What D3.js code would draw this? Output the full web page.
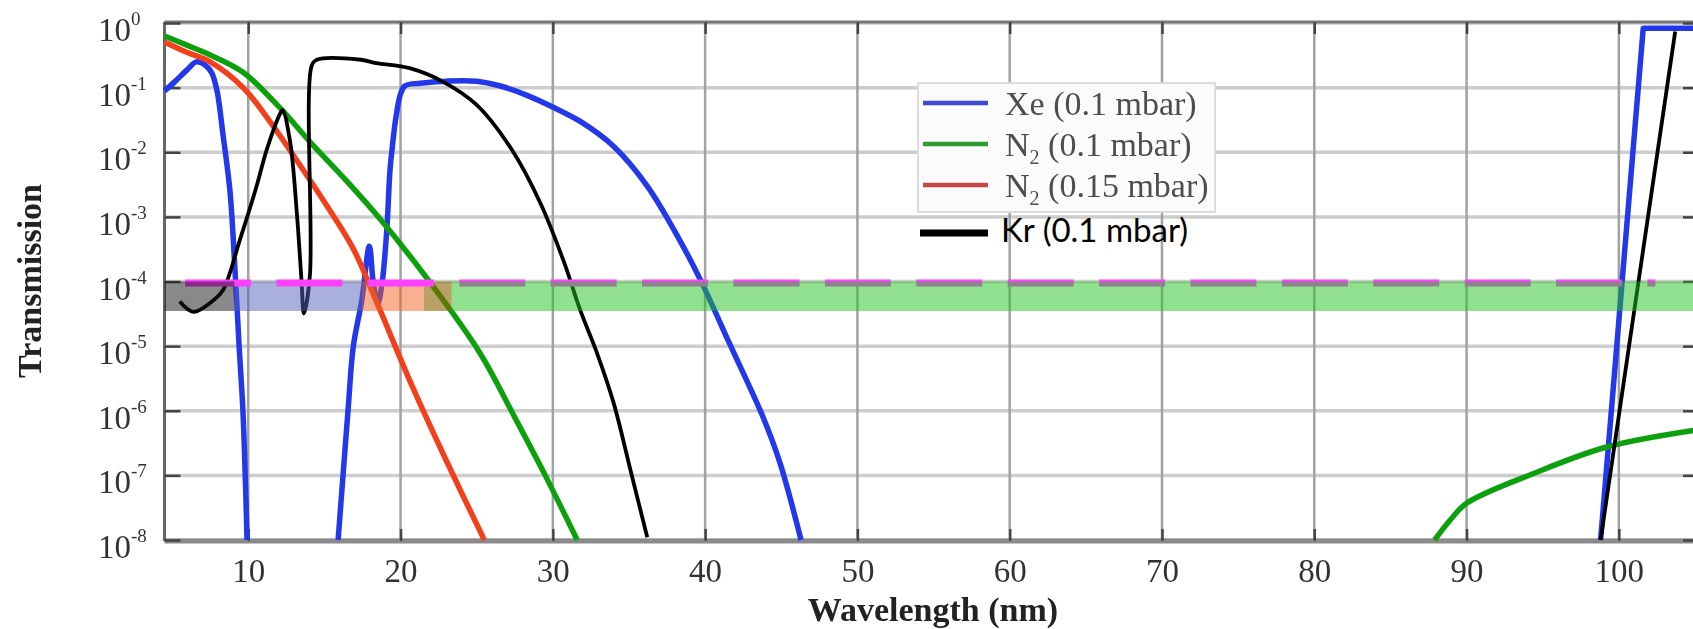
<!DOCTYPE html>
<html>
<head>
<meta charset="utf-8">
<script src="https://cdn.jsdelivr.net/npm/d3@7"></script>
<style>
  body { margin: 0; background: #fff; }
  svg { display: block; }
</style>
</head>
<body>
<svg width="1693" height="629"></svg>
<script>
// ---- data: [wavelength (nm), transmission] ----
// null breaks a curve where it drops below 1e-8
const xeData = [
  [4.5, 0.089], [5.2, 0.125], [6.0, 0.19], [6.6, 0.25], [7.2, 0.22], [7.6, 0.17],
  [7.95, 0.089], [8.35, 0.018], [8.8, 0.0025], [9.1, 2e-4], [9.4, 1e-5], [9.65, 1e-6],
  [9.8, 1e-7], [9.92, 1e-8], [12, null],
  [15.9, 1e-8], [16.55, 1e-6], [16.9, 1e-5], [17.45, 5e-5], [17.95, 3.5e-4], [18.2, 1e-4],
  [18.5, 4.5e-5], [18.8, 1e-4], [19.1, 6.5e-4], [19.3, 5e-3], [19.45, 0.0115], [19.7, 0.035],
  [20.0, 0.08], [20.3, 0.107], [21.3, 0.117], [23, 0.126], [25, 0.126], [26.5, 0.107],
  [28.3, 0.076], [30, 0.05], [31.8, 0.03], [34.0, 0.0123], [36.2, 0.003], [38.3, 4.5e-4],
  [39.7, 1.05e-4], [41.6, 1.1e-5], [43.8, 8e-7], [44.9, 1.6e-7], [46.3, 1e-8]
];
const xeEdge = [[98.8, 1e-8], [101.6, 0.83], [105, 0.83]];
const n2LowData = [
  [4.5, 0.63], [6.0, 0.45], [7.5, 0.32], [9.7, 0.17], [12.1, 0.048], [14.05, 0.0145],
  [16.5, 0.0035], [18.7, 9e-4], [21.8, 1.07e-4], [25.2, 7.9e-6], [27.5, 7.9e-7],
  [29.5, 1e-7], [31.6, 1e-8], [60, null],
  [87.9, 1e-8], [88.9, 2e-8], [90.0, 3.7e-8], [94.4, 1.07e-7], [99.2, 2.75e-7], [105, 5e-7]
];
const n2HighData = [
  [4.5, 0.51], [6.0, 0.35], [7.5, 0.25], [9.7, 0.098], [11.6, 0.026], [13.4, 0.0063],
  [15.15, 0.0015], [16.9, 3.2e-4], [18.4, 5e-5], [20.8, 2.3e-6], [23.0, 1.7e-7], [25.5, 1e-8]
];
const krData = [
  [5.5, 4.9e-5], [6.4, 3.4e-5], [7.7, 5.1e-5], [8.35, 7.4e-5], [9.45, 4.4e-4], [10.55, 0.003],
  [11.2, 0.0107], [12.1, 0.04], [12.25, 0.045], [12.75, 0.0145], [13.2, 0.00107], [13.5, 1e-4],
  [13.65, 3.2e-5], [14.05, 1.26e-4], [14.17, 0.22], [14.5, 0.27], [17.4, 0.27], [18.4, 0.24],
  [20.6, 0.2], [22.8, 0.123], [25.0, 0.054], [27.3, 0.011], [29.2, 0.0016], [30.7, 2.1e-4],
  [31.8, 3.6e-5], [32.9, 7.8e-6], [34.0, 1.3e-6], [35.1, 1.2e-7], [36.2, 1.1e-8]
];
const krEdge = [[98.8, 1e-8], [103.7, 0.74]];

const seriesNames = ["Xe (0.1 mbar)", "N2 (0.1 mbar)", "N2 (0.15 mbar)", "Kr (0.1 mbar)"];

// shaded strip just under the 1e-4 threshold
const threshold = 1e-4;
const thresholdFrom = 5.85, thresholdTo = 102.4;
const bandTop = 1e-4, bandBottom = 3.5e-5;
const bandNames = ["Xe", "N2 (0.15)", "overlap", "Kr", "N2 (0.1)"];
const bandFrom = [9.08, 17.45, 21.54, 4.5, 23.36];
const bandTo   = [17.45, 21.54, 23.36, 9.08, 105];

const xTicks = [10, 20, 30, 40, 50, 60, 70, 80, 90, 100];
const yExponents = [0, -1, -2, -3, -4, -5, -6, -7, -8];

// ---- drawing ----
const svg = d3.select("svg"),
    width = +svg.attr("width"),
    height = +svg.attr("height");

const x = d3.scaleLinear().domain([4.5, 105]).range([164.5, 1695]);
const y = d3.scaleLog().domain([1e-8, 1]).range([540, 23]);
const yTicks = yExponents.map(e => Math.pow(10, e));

svg.append("defs").append("filter").attr("id", "soft")
    .append("feGaussianBlur").attr("stdDeviation", 0.7);

const serif = "'Liberation Serif', 'Times New Roman', serif";

// grid
const grid = svg.append("g").attr("filter", "url(#soft)");
grid.selectAll(".hg").data(yTicks).join("line")
    .attr("x1", x(4.5)).attr("x2", x(105))
    .attr("y1", d => y(d)).attr("y2", d => y(d))
    .attr("stroke", "#cdcdcd").attr("stroke-width", 3.5);
grid.selectAll(".vg").data(xTicks).join("line")
    .attr("x1", d => x(d)).attr("x2", d => x(d))
    .attr("y1", y(1)).attr("y2", y(1e-8))
    .attr("stroke", "#a2a2a2").attr("stroke-width", 2.5);

// frame + inward ticks
const frame = svg.append("g").attr("filter", "url(#soft)");
frame.append("line").attr("x1", x(4.5)).attr("x2", x(105)).attr("y1", 22).attr("y2", 22)
    .attr("stroke", "#777").attr("stroke-width", 3);
frame.append("line").attr("x1", x(4.5)).attr("x2", x(105)).attr("y1", 541).attr("y2", 541)
    .attr("stroke", "#8a8a8a").attr("stroke-width", 5);
frame.append("line").attr("x1", x(4.5)).attr("x2", x(4.5)).attr("y1", 22).attr("y2", 541)
    .attr("stroke", "#666").attr("stroke-width", 3);

const xAxis = svg.append("g").attr("transform", "translate(0,541)")
    .call(d3.axisBottom(x).tickValues(xTicks).tickSizeInner(-12).tickSizeOuter(0).tickPadding(17.5));
xAxis.select(".domain").remove();
xAxis.selectAll(".tick line").attr("stroke", "#444").attr("stroke-width", 2.5);
xAxis.selectAll(".tick text")
    .style("font-family", serif).style("font-size", "33px").attr("fill", "#333")
    .attr("filter", "url(#soft)");

const xTop = svg.append("g").attr("transform", "translate(0,22)")
    .call(d3.axisTop(x).tickValues(xTicks).tickSizeInner(-12).tickSizeOuter(0).tickFormat(""));
xTop.select(".domain").remove();
xTop.selectAll(".tick line").attr("stroke", "#444").attr("stroke-width", 2.5);

const yLeft = svg.append("g").attr("transform", `translate(${x(4.5)},0)`)
    .call(d3.axisLeft(y).tickValues(yTicks).tickSizeInner(-16).tickSizeOuter(0).tickFormat(""));
yLeft.select(".domain").remove();
yLeft.selectAll(".tick line").attr("stroke", "#444").attr("stroke-width", 2.5);

const yRight = svg.append("g").attr("transform", `translate(${x(105)},0)`)
    .call(d3.axisRight(y).tickValues(yTicks).tickSizeInner(-12).tickSizeOuter(0).tickFormat(""));
yRight.select(".domain").remove();
yRight.selectAll(".tick line").attr("stroke", "#444").attr("stroke-width", 2.5);

// y tick labels 10^n
const yLab = svg.append("g").attr("filter", "url(#soft)")
    .style("font-family", serif).attr("fill", "#333");
yExponents.forEach((e, i) => {
  const t = yLab.append("text").attr("x", 98).attr("y", y(yTicks[i]) + 18)
      .style("font-size", "33px");
  t.append("tspan").text("10");
  t.append("tspan").attr("dy", -16).style("font-size", "19px").text(e === 0 ? "0" : "-" + (-e));
});

// curves
const smooth = d3.line()
    .defined(d => d[1] !== null)
    .curve(d3.curveCatmullRom.alpha(0.5))
    .x(d => x(d[0]))
    .y(d => y(d[1]));
const straight = d3.line()
    .x(d => x(d[0]))
    .y(d => y(d[1]));

const curves = svg.append("g");
const soft = [
  { d: smooth(xeData) + straight(xeEdge), color: "#2338ea" },
  { d: smooth(n2LowData), color: "#10a010" },
  { d: smooth(n2HighData), color: "#f2401c" }
];
curves.selectAll(".soft").data(soft).join("path")
    .attr("d", d => d.d)
    .attr("fill", "none")
    .attr("stroke", d => d.color)
    .attr("stroke-width", 5.5)
    .attr("stroke-linejoin", "round")
    .attr("filter", "url(#soft)");
curves.append("path")
    .attr("d", smooth(krData) + straight(krEdge))
    .attr("fill", "none").attr("stroke", "#000").attr("stroke-width", 3.8)
    .attr("stroke-linejoin", "round");

// shaded band
const bandColor = d3.scaleOrdinal()
    .domain(bandNames)
    .range(["#5561b9", "#f16121", "#8a6100", "#141414", "#21c121"]);
const bandOpacity = d3.scaleOrdinal().domain(bandNames).range([0.5, 0.5, 0.6, 0.5, 0.5]);

const bandIdx = d3.range(bandNames.length);
const drawBand = (g, idx) => g.selectAll("rect").data(idx).join("rect")
    .attr("x", i => x(bandFrom[i]))
    .attr("width", i => x(bandTo[i]) - x(bandFrom[i]))
    .attr("y", y(bandTop))
    .attr("height", y(bandBottom) - y(bandTop))
    .attr("fill", i => bandColor(bandNames[i]))
    .attr("fill-opacity", i => bandOpacity(bandNames[i]));

drawBand(svg.append("g"), bandIdx.slice(0, 3));

svg.append("line")
    .attr("x1", x(thresholdFrom)).attr("x2", x(thresholdTo))
    .attr("y1", y(threshold) + 1.5).attr("y2", y(threshold) + 1.5)
    .attr("stroke", "#ff40ff").attr("stroke-width", 7)
    .attr("stroke-dasharray", "66,25.4");

drawBand(svg.append("g"), bandIdx.slice(3));

// axis titles
svg.append("text")
    .attr("x", 933).attr("y", 621).attr("text-anchor", "middle")
    .style("font-family", serif).style("font-size", "34px").style("font-weight", "bold")
    .attr("fill", "#222").attr("filter", "url(#soft)")
    .text("Wavelength (nm)");
svg.append("text")
    .attr("transform", "translate(41,281) rotate(-90)").attr("text-anchor", "middle")
    .style("font-family", serif).style("font-size", "34px").style("font-weight", "bold")
    .attr("fill", "#222").attr("filter", "url(#soft)")
    .text("Transmission");

// legend (original three entries)
const legendColors = ["#4248d4", "#2d9e2d", "#c84646"];
const lg = svg.append("g").attr("filter", "url(#soft)");
lg.append("rect").attr("x", 918).attr("y", 83).attr("width", 297).attr("height", 129)
    .attr("fill", "#fbfbfb").attr("stroke", "#dcdcdc").attr("stroke-width", 2);
seriesNames.slice(0, 3).forEach((name, i) => {
  const ly = 103 + i * 41;
  lg.append("line").attr("x1", 923).attr("x2", 988).attr("y1", ly).attr("y2", ly)
      .attr("stroke", legendColors[i]).attr("stroke-width", 4.5);
  const t = lg.append("text").attr("x", 1005).attr("y", ly + 12)
      .style("font-family", serif).style("font-size", "34px").attr("fill", "#4d4d4d");
  if (name.startsWith("N2")) {
    t.append("tspan").text("N");
    t.append("tspan").attr("dy", 8).style("font-size", "20px").text("2");
    t.append("tspan").attr("dy", -8).text(name.slice(2));
  } else {
    t.text(name);
  }
});

// added Kr entry
svg.append("line").attr("x1", 920).attr("x2", 988).attr("y1", 233).attr("y2", 233)
    .attr("stroke", "#000").attr("stroke-width", 7);
svg.append("text").attr("x", 1001).attr("y", 242)
    .style("font-family", "Lato, 'Open Sans', sans-serif").style("font-size", "33px")
    .attr("fill", "#000")
    .text(seriesNames[3]);
</script>
</body>
</html>
